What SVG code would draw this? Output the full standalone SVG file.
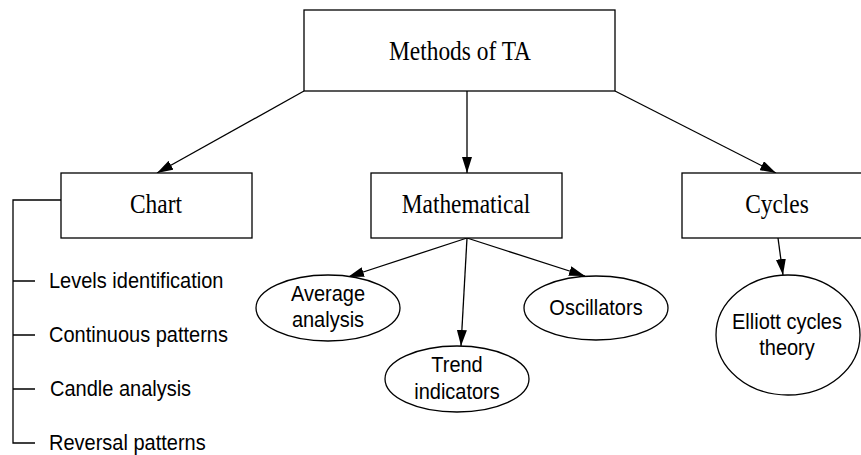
<svg xmlns="http://www.w3.org/2000/svg" width="861" height="455" viewBox="0 0 861 455">
<style>
.box{fill:#fff;stroke:#000;stroke-width:1.3}
.ell{fill:#fff;stroke:#000;stroke-width:1.3}
.ln{fill:none;stroke:#000;stroke-width:1.3}
.ser{font-family:"Liberation Serif","Times New Roman",serif;font-size:23.4px;text-anchor:middle;fill:#000}
.san{font-family:"Liberation Sans",Arial,sans-serif;font-size:20px;text-anchor:middle;fill:#000}
.lst{font-family:"Liberation Sans",Arial,sans-serif;font-size:20px;fill:#000}
</style>
<defs>
<marker id="ah" markerUnits="userSpaceOnUse" markerWidth="16" markerHeight="10" refX="16" refY="5" orient="auto">
<path d="M0,0 L16,5 L0,10 z" fill="#000"/>
</marker>
</defs>
<rect width="861" height="455" fill="#fff"/>
<g id="connectors">
<line class="ln" x1="304" y1="91" x2="157" y2="173" marker-end="url(#ah)"/>
<line class="ln" x1="467" y1="91" x2="467" y2="173" marker-end="url(#ah)"/>
<line class="ln" x1="615" y1="91" x2="776" y2="173" marker-end="url(#ah)"/>
<line class="ln" x1="467" y1="238" x2="348" y2="277" marker-end="url(#ah)"/>
<line class="ln" x1="467" y1="238" x2="461" y2="346" marker-end="url(#ah)"/>
<line class="ln" x1="467" y1="238" x2="585" y2="276" marker-end="url(#ah)"/>
<line class="ln" x1="778" y1="238" x2="783" y2="275" marker-end="url(#ah)"/>
<path class="ln" d="M61,200 H13 V443 H35 M13,281 H35 M13,335 H35 M13,389 H35"/>
</g>
<g id="methods">
<rect class="box" x="304" y="10" width="311" height="81"/>
<text class="ser" transform="translate(460,60) scale(1,1.13)">Methods of TA</text>
</g>
<g id="chart">
<rect class="box" x="61" y="173" width="191" height="65"/>
<text class="ser" transform="translate(156,213) scale(1,1.13)">Chart</text>
</g>
<g id="mathematical">
<rect class="box" x="371" y="173" width="191" height="65"/>
<text class="ser" transform="translate(466,213) scale(1,1.13)">Mathematical</text>
</g>
<g id="cycles">
<rect class="box" x="682" y="173" width="191" height="65"/>
<text class="ser" transform="translate(777,213) scale(1,1.13)">Cycles</text>
</g>
<g id="levels"><text class="lst" transform="translate(49,288) scale(1,1.13)">Levels identification</text></g>
<g id="continuous"><text class="lst" transform="translate(49,342) scale(1,1.13)">Continuous patterns</text></g>
<g id="candle"><text class="lst" transform="translate(50,396) scale(1,1.13)">Candle analysis</text></g>
<g id="reversal"><text class="lst" transform="translate(49,450) scale(1,1.13)">Reversal patterns</text></g>
<g id="average">
<ellipse class="ell" cx="328" cy="308" rx="72" ry="33"/>
<text class="san" transform="translate(328,301) scale(1,1.13)">Average</text>
<text class="san" transform="translate(328,327) scale(1,1.13)">analysis</text>
</g>
<g id="trend">
<ellipse class="ell" cx="457" cy="379" rx="72" ry="33"/>
<text class="san" transform="translate(457,372) scale(1,1.13)">Trend</text>
<text class="san" transform="translate(457,399) scale(1,1.13)">indicators</text>
</g>
<g id="oscillators">
<ellipse class="ell" cx="596" cy="308" rx="72" ry="32"/>
<text class="san" transform="translate(596,315) scale(1,1.13)">Oscillators</text>
</g>
<g id="elliott">
<ellipse class="ell" cx="788" cy="335" rx="72" ry="60"/>
<text class="san" transform="translate(787,329) scale(1,1.13)">Elliott cycles</text>
<text class="san" transform="translate(787,355) scale(1,1.13)">theory</text>
</g>
</svg>
